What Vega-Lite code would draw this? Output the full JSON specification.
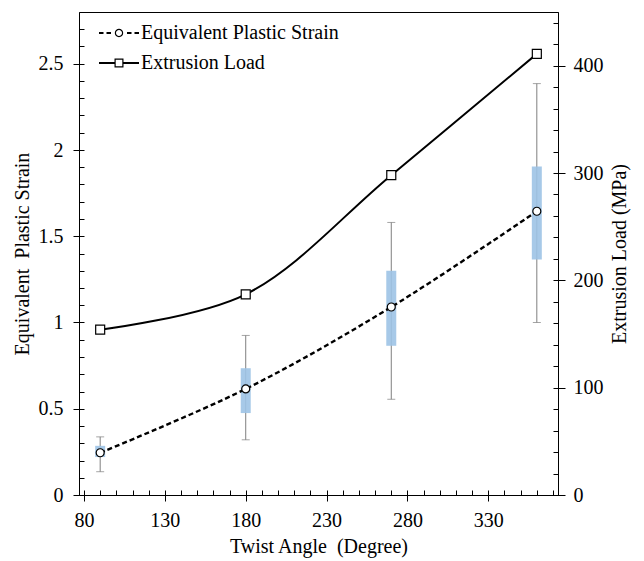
{
  "$schema": "https://vega.github.io/schema/vega-lite/v6.json",
  "width": 479,
  "height": 483,
  "padding": {"left": 12, "top": 12, "right": 4, "bottom": 3},
  "background": "white",
  "config": {
    "view": {"stroke": "black", "strokeWidth": 1},
    "axis": {
      "labelFont": "Liberation Serif", "titleFont": "Liberation Serif",
      "labelFontSize": 20, "titleFontSize": 20, "titleFontWeight": "normal",
      "labelColor": "black", "titleColor": "black", "domainColor": "black",
      "tickColor": "black", "grid": false, "domainWidth": 1, "tickWidth": 1,
      "labelFlush": false, "labelOverlap": false
    }
  },
  "datasets": {
    "strain": [
      {"angle": 90, "strain": 0.245, "err_lo": 0.135, "err_hi": 0.337, "box_lo": 0.22, "box_hi": 0.285, "series": "Equivalent Plastic Strain"},
      {"angle": 180, "strain": 0.615, "err_lo": 0.32, "err_hi": 0.925, "box_lo": 0.475, "box_hi": 0.735, "series": "Equivalent Plastic Strain"},
      {"angle": 270, "strain": 1.09, "err_lo": 0.555, "err_hi": 1.58, "box_lo": 0.865, "box_hi": 1.3, "series": "Equivalent Plastic Strain"},
      {"angle": 360, "strain": 1.645, "err_lo": 1.0, "err_hi": 2.385, "box_lo": 1.365, "box_hi": 1.905, "series": "Equivalent Plastic Strain"}
    ],
    "load": [
      {"angle": 90, "load": 154, "series": "Extrusion Load"},
      {"angle": 180, "load": 187, "series": "Extrusion Load"},
      {"angle": 270, "load": 298, "series": "Extrusion Load"},
      {"angle": 360, "load": 411, "series": "Extrusion Load"}
    ]
  },
  "layer": [
    {
      "data": {"name": "strain"},
      "layer": [
        {
          "mark": {"type": "rule", "color": "#7f7f7f", "strokeWidth": 1},
          "encoding": {
            "x": {"field": "angle", "type": "quantitative", "scale": {"domain": [80, 370], "nice": false, "zero": false},
              "axis": {"orient": "bottom", "values": [80, 130, 180, 230, 280, 330], "tickSize": 6, "labelPadding": 9, "title": "Twist Angle\u00a0 (Degree)", "titlePadding": 6}},
            "y": {"field": "err_lo", "type": "quantitative", "scale": {"domain": [0, 2.8], "nice": false},
              "axis": {"orient": "left", "values": [0, 0.5, 1, 1.5, 2, 2.5], "format": "~g", "tickSize": 6, "labelPadding": 10, "title": "Equivalent\u00a0 Plastic Strain", "titlePadding": 6}},
            "y2": {"field": "err_hi"}
          }
        },
        {
          "mark": {"type": "tick", "orient": "horizontal", "color": "#7f7f7f", "size": 8, "thickness": 1},
          "encoding": {
            "x": {"field": "angle", "type": "quantitative", "axis": null},
            "y": {"field": "err_lo", "type": "quantitative", "axis": null}
          }
        },
        {
          "mark": {"type": "tick", "orient": "horizontal", "color": "#7f7f7f", "size": 8, "thickness": 1},
          "encoding": {
            "x": {"field": "angle", "type": "quantitative", "axis": null},
            "y": {"field": "err_hi", "type": "quantitative", "axis": null}
          }
        },
        {
          "mark": {"type": "bar", "width": 10, "color": "#9dc3e6", "opacity": 0.9},
          "encoding": {
            "x": {"field": "angle", "type": "quantitative", "axis": null},
            "y": {"field": "box_lo", "type": "quantitative", "axis": null},
            "y2": {"field": "box_hi"}
          }
        },
        {
          "mark": {"type": "line", "color": "black", "strokeWidth": 2.4, "strokeDash": [5, 3], "interpolate": "catmull-rom"},
          "encoding": {
            "x": {"field": "angle", "type": "quantitative", "axis": null},
            "y": {"field": "strain", "type": "quantitative", "axis": null}
          }
        },
        {
          "mark": {"type": "point", "shape": "circle", "filled": true, "fill": "white", "stroke": "black", "strokeWidth": 1.2, "size": 64, "opacity": 1},
          "encoding": {
            "x": {"field": "angle", "type": "quantitative", "axis": null},
            "y": {"field": "strain", "type": "quantitative", "axis": null}
          }
        },
        {
          "mark": {"type": "point", "filled": true, "fill": "black", "color": "black", "strokeWidth": 0, "opacity": 0},
          "encoding": {
            "x": {"field": "angle", "type": "quantitative",
              "axis": {"orient": "bottom", "values": [80, 90, 100, 110, 120, 130, 140, 150, 160, 170, 180, 190, 200, 210, 220, 230, 240, 250, 260, 270, 280, 290, 300, 310, 320, 330, 340, 350, 360, 370], "tickSize": -5, "labels": false, "domain": false, "title": null}},
            "y": {"field": "strain", "type": "quantitative",
              "axis": {"orient": "left", "values": [0, 0.1, 0.2, 0.3, 0.4, 0.5, 0.6, 0.7, 0.8, 0.9, 1, 1.1, 1.2, 1.3, 1.4, 1.5, 1.6, 1.7, 1.8, 1.9, 2, 2.1, 2.2, 2.3, 2.4, 2.5, 2.6, 2.7], "tickSize": -5, "labels": false, "domain": false, "title": null}},
            "shape": {
              "field": "series", "type": "nominal",
              "scale": {"domain": ["Equivalent Plastic Strain", "Extrusion Load"], "range": [
                "M-2,-0.11H-1.55V0.11H-2ZM-1.25,-0.11H-0.8V0.11H-1.25ZM0.8,-0.11H1.25V0.11H0.8ZM1.55,-0.11H2V0.11H1.55ZM0.42,0A0.42,0.42,0,1,1,-0.42,0A0.42,0.42,0,1,1,0.42,0ZM0.3,0A0.3,0.3,0,1,0,-0.3,0A0.3,0.3,0,1,0,0.3,0Z",
                "M-2,-0.11H-0.45V0.11H-2ZM0.45,-0.11H2V0.11H0.45ZM-0.45,-0.45H0.45V0.45H-0.45ZM-0.33,-0.33V0.33H0.33V-0.33Z"
              ]},
              "legend": {
                "orient": "none", "legendX": 30, "legendY": 11, "title": null,
                "labelFont": "Liberation Serif", "labelFontSize": 20, "labelColor": "black",
                "labelLimit": 400, "labelOffset": 12, "symbolSize": 400, "padding": 0, "rowPadding": 10,
                "symbolStrokeWidth": 0, "symbolFillColor": "black", "symbolOpacity": 1
              }
            }
          }
        }
      ],
      "resolve": {"axis": {"x": "independent", "y": "independent"}}
    },
    {
      "data": {"name": "load"},
      "layer": [
        {
          "mark": {"type": "line", "color": "black", "strokeWidth": 2, "interpolate": "catmull-rom"},
          "encoding": {
            "x": {"field": "angle", "type": "quantitative", "axis": null},
            "y": {"field": "load", "type": "quantitative", "scale": {"domain": [0, 450], "nice": false},
              "axis": {"orient": "right", "values": [0, 100, 200, 300, 400], "tickSize": 7, "labelPadding": 8, "title": "Extrusion Load (MPa)", "titleAngle": -90, "titleBaseline": "top", "titlePadding": 6}}
          }
        },
        {
          "mark": {"type": "point", "shape": "square", "filled": true, "fill": "white", "stroke": "black", "strokeWidth": 1.2, "size": 81, "opacity": 1},
          "encoding": {
            "x": {"field": "angle", "type": "quantitative", "axis": null},
            "y": {"field": "load", "type": "quantitative", "axis": null}
          }
        },
        {
          "mark": {"type": "point", "opacity": 0},
          "encoding": {
            "x": {"field": "angle", "type": "quantitative", "axis": null},
            "y": {"field": "load", "type": "quantitative",
              "axis": {"orient": "right", "values": [0, 20, 40, 60, 80, 100, 120, 140, 160, 180, 200, 220, 240, 260, 280, 300, 320, 340, 360, 380, 400, 420, 440], "tickSize": -5, "labels": false, "domain": false, "title": null}}
          }
        }
      ],
      "resolve": {"axis": {"y": "independent"}}
    }
  ],
  "resolve": {"scale": {"y": "independent"}, "axis": {"x": "independent", "y": "independent"}}
}
